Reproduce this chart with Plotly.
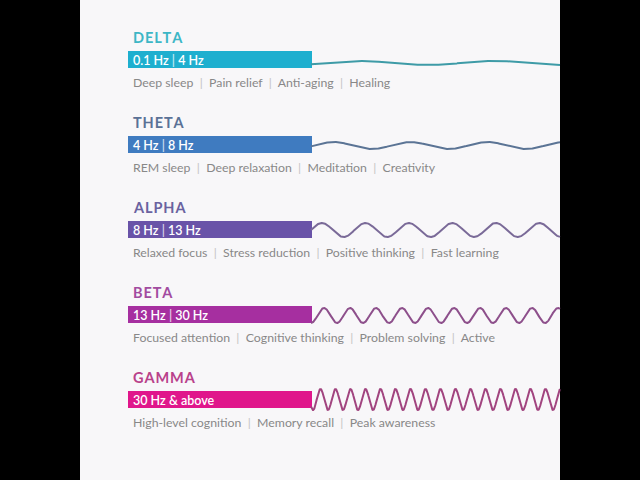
import numpy as np
import plotly.graph_objects as go

# ---- data ----
bands = ["DELTA", "THETA", "ALPHA", "BETA", "GAMMA"]
freq_labels = ["0.1 Hz | 4 Hz", "4 Hz | 8 Hz", "8 Hz | 13 Hz", "13 Hz | 30 Hz", "30 Hz & above"]
descriptions = [
    ["Deep sleep", "Pain relief", "Anti-aging", "Healing"],
    ["REM sleep", "Deep relaxation", "Meditation", "Creativity"],
    ["Relaxed focus", "Stress reduction", "Positive thinking", "Fast learning"],
    ["Focused attention", "Cognitive thinking", "Problem solving", "Active"],
    ["High-level cognition", "Memory recall", "Peak awareness"],
]
# illustrative wave: period (px along the strip) and amplitude
wave_period = [137, 77, 43.5, 26, 15]
wave_amp = [2.0, 3.5, 7.0, 7.5, 10.5]
wave_phase = [290, 294.75, 300.1, 311, 313]

# ---- styles ----
bar_colors = ["#1eafcf", "#3f7bc0", "#6953a8", "#a62fa0", "#e0168b"]
title_colors = ["#3db6c6", "#5a7196", "#6a62a0", "#a24ba0", "#b9418b"]
wave_colors = ["#3e9ba7", "#5b7495", "#7a6a98", "#8d4f8b", "#a1447f"]
row0, row_step = 59.5, 85
bar_x0, bar_x1 = 128, 311.5
panel_x0, panel_x1 = 80, 560
wave_dy = [3.5, 1.0, 0.5, 1.0, 0.0]

centers = [row0 + i * row_step for i in range(len(bands))]

fig = go.Figure()

fig.add_trace(go.Bar(
    orientation="h",
    y=centers,
    x=[bar_x1 - bar_x0] * len(bands),
    base=bar_x0,
    width=17.5,
    marker=dict(color=bar_colors, line=dict(width=0)),
    hoverinfo="skip",
    showlegend=False,
))

for i, c in enumerate(centers):
    xs = np.linspace(bar_x1 - 0.5, panel_x1, 800)
    ys = c + wave_dy[i] + wave_amp[i] * np.cos(2 * np.pi * (xs - wave_phase[i]) / wave_period[i])
    fig.add_trace(go.Scatter(
        x=xs, y=ys, mode="lines",
        line=dict(color=wave_colors[i], width=2),
        hoverinfo="skip", showlegend=False,
    ))

sep = "\u00a0\u00a0<span style='color:#c4c4c4'>|</span>\u00a0\u00a0"
for i, c in enumerate(centers):
    fig.add_annotation(
        x=131, y=c - 22.5, xref="x", yref="y", xanchor="left", yanchor="middle",
        text="<b>" + "\u200a".join(bands[i]) + "</b>", showarrow=False,
        font=dict(family="Lato", size=14.5, color=title_colors[i]),
    )
    lbl = freq_labels[i].replace(" | ", " <span style='color:rgba(255,255,255,0.75)'>|</span> ")
    fig.add_annotation(
        x=131, y=c + 0.5, xref="x", yref="y", xanchor="left", yanchor="middle",
        text=lbl, showarrow=False,
        font=dict(family="Lato", size=12.5, color="#ffffff", weight=600),
    )
    fig.add_annotation(
        x=131, y=c + 23, xref="x", yref="y", xanchor="left", yanchor="middle",
        text=sep.join(descriptions[i]), showarrow=False,
        font=dict(family="Lato", size=12.3, color="#888888"),
    )

fig.add_shape(type="rect", x0=panel_x0, x1=panel_x1, y0=0, y1=480,
              xref="x", yref="y", fillcolor="#f8f7f9", line=dict(width=0), layer="below")

fig.update_layout(
    width=640, height=480,
    margin=dict(l=0, r=0, t=0, b=0),
    paper_bgcolor="#000000", plot_bgcolor="#000000",
    xaxis=dict(range=[0, 640], visible=False, fixedrange=True),
    yaxis=dict(range=[480, 0], visible=False, fixedrange=True),
    bargap=0,
)

fig.write_html(
    "out.html",
    config={"displayModeBar": False},
    post_script="document.body.style.margin='0';document.body.style.background='#000';",
)
